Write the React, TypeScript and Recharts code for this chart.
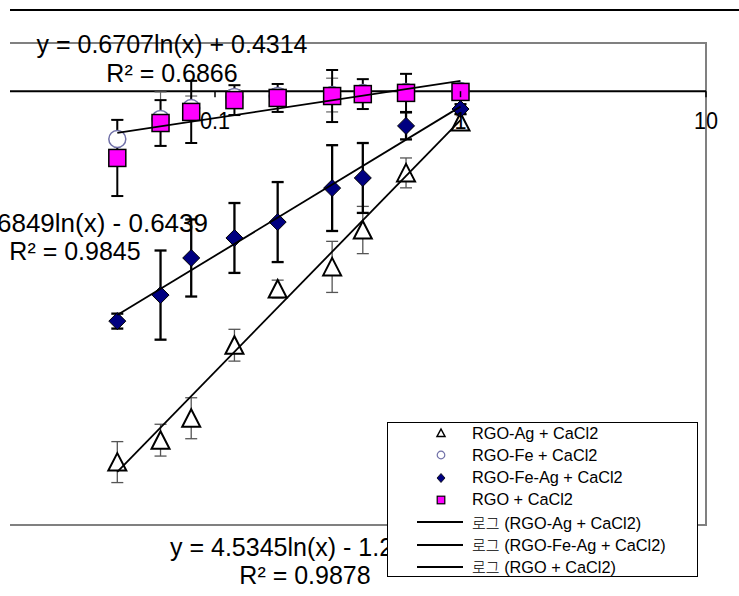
import { ScatterChart, Scatter, XAxis, YAxis, ErrorBar, ReferenceLine, ReferenceArea, ReferenceDot } from "recharts"

const concentrations = [0.04, 0.06, 0.08, 0.12, 0.18, 0.3, 0.4, 0.6, 1]

const agMean = [-15.39, -14.48, -13.57, -10.54, -8.21, -7.29, -5.76, -3.39, -1.28]
const agErr = [0.85, 0.66, 0.85, 0.66, 0.37, 1.06, 0.98, 0.62, 0.3]
const feMean = [-1.98, -1.15, -0.7, -0.24, -0.2, -0.16, -0.07, -0.03, 0.01]
const feErr = [0.8, 1.12, 0.5, 0.3, 0.3, 0.7, 0.3, 0.3, 0.1]
const feAgMean = [-9.54, -8.46, -6.92, -6.09, -5.43, -4.02, -3.6, -1.44, -0.74]
const feAgErr = [0.31, 1.85, 1.6, 1.45, 1.66, 1.78, 1.45, 0.56, 0.2]
const rgoMean = [-2.77, -1.32, -0.86, -0.37, -0.28, -0.2, -0.12, -0.07, -0.03]
const rgoErr = [1.58, 0.95, 1.29, 0.62, 0.58, 1.08, 0.62, 0.79, 0.1]

// trendline end points (x = 0.04 and x = 1)
const trendX = [0.04, 1]
const agTrend = [-15.8, -1.2]
const feAgTrend = [-9.29, -0.64]
const rgoTrend = [-1.73, 0.43]

const axisTicks = [0.1, 1, 10]
const tickLabels = ["0.1", "1", "10"]

const legendMarkers = ["RGO-Ag + CaCl2", "RGO-Fe + CaCl2", "RGO-Fe-Ag + CaCl2", "RGO + CaCl2"]
const legendTrends = ["(RGO-Ag + CaCl2)", "(RGO-Fe-Ag + CaCl2)", "(RGO + CaCl2)"]
const trendPrefix = "로그"

const FONT = "'Liberation Sans', Arial, sans-serif"

const toPoints = (ys: number[], errs: number[]) =>
  concentrations.map((x, i) => ({ x, y: ys[i], err: errs[i] }))
const toTrend = (ys: number[]) => trendX.map((x, i) => ({ x, y: ys[i] }))

const Triangle = ({ cx, cy }: any) => (
  <polygon
    points={`${cx},${cy - 9} ${cx + 9},${cy + 8.5} ${cx - 9},${cy + 8.5}`}
    fill="#fff"
    stroke="#000"
    strokeWidth={2}
  />
)
const Circle = ({ cx, cy }: any) => (
  <circle cx={cx} cy={cy} r={8.5} fill="#fff" stroke="#7070a8" strokeWidth={1.5} />
)
const Diamond = ({ cx, cy }: any) => (
  <polygon
    points={`${cx},${cy - 8.5} ${cx + 8.5},${cy} ${cx},${cy + 8.5} ${cx - 8.5},${cy}`}
    fill="#000080"
    stroke="#000"
    strokeWidth={1}
  />
)
const Square = ({ cx, cy }: any) => (
  <rect x={cx - 8.5} y={cy - 8.5} width={17} height={17} fill="#ff00ff" stroke="#000" strokeWidth={1.5} />
)
const NoShape = () => <g />

function LegendBox() {
  const marks = [
    <polygon key="t" points="0,-4 4,3.5 -4,3.5" fill="#fff" stroke="#000" strokeWidth={1.5} />,
    <circle key="c" r={3.8} fill="#fff" stroke="#7070a8" strokeWidth={1.2} />,
    <polygon key="d" points="0,-4.5 4,0 0,4.5 -4,0" fill="#000080" stroke="#000" strokeWidth={0.8} />,
    <rect key="s" x={-3.8} y={-3.8} width={7.6} height={7.6} fill="#ff00ff" stroke="#000" strokeWidth={1.2} />,
  ]
  const rows = [
    ...legendMarkers.map((name, i) => ({ key: name, mark: marks[i], text: name, prefix: "" })),
    ...legendTrends.map((name) => ({ key: name, mark: null, text: name, prefix: trendPrefix })),
  ]
  return (
    <div
      style={{
        position: "absolute",
        left: 387,
        top: 422,
        width: 311,
        height: 155,
        border: "1px solid #000",
        background: "#fff",
        boxSizing: "border-box",
      }}
    >
      {rows.map((r, i) => (
        <div
          key={r.key}
          style={{
            position: "absolute",
            left: 0,
            top: 10 + i * 22.3 - 11,
            height: 22,
            width: 305,
            display: "flex",
            alignItems: "center",
          }}
        >
          <svg width={84} height={22} style={{ flex: "none" }}>
            {r.mark ? (
              <g transform="translate(53,11)">{r.mark}</g>
            ) : (
              <line x1={29} x2={75} y1={11} y2={11} stroke="#000" strokeWidth={2} />
            )}
          </svg>
          <span style={{ fontFamily: FONT, fontSize: 16.3, color: "#000", whiteSpace: "pre" }}>
            {r.prefix ? (
              <span style={{ fontFamily: "'Noto Sans CJK KR', sans-serif", fontSize: 15, fontWeight: 300 }}>
                {r.prefix}
              </span>
            ) : null}
            {r.prefix ? " " : ""}
            {r.text}
          </span>
        </div>
      ))}
    </div>
  )
}

export default function App() {
  return (
    <div
      style={{
        position: "absolute",
        left: 0,
        top: 0,
        width: 739,
        height: 596,
        overflow: "hidden",
        background: "#fff",
      }}
    >
      <div style={{ position: "absolute", left: 10, top: 9, width: 729, height: 2, background: "#000" }} />
      <div style={{ position: "absolute", left: -80, top: 0 }}>
        <ScatterChart width={819} height={596} margin={{ top: 43, right: 33, bottom: 71, left: 49.5 }}>
          <XAxis type="number" dataKey="x" scale="log" domain={[0.01, 10]} allowDataOverflow hide />
          <YAxis type="number" dataKey="y" domain={[-18, 2]} allowDataOverflow hide />
          <ReferenceArea x1={0.01} x2={10} y1={-18} y2={2} fill="none" stroke="#808080" strokeWidth={2} />
          <ReferenceLine y={0} stroke="#000" strokeWidth={2} />
          <Scatter data={toPoints(agMean, agErr)} shape={Triangle} isAnimationActive={false}>
            <ErrorBar dataKey="err" direction="y" width={6} stroke="#555" strokeWidth={1.3} />
          </Scatter>
          <Scatter data={toPoints(feMean, feErr)} shape={Circle} isAnimationActive={false}>
            <ErrorBar dataKey="err" direction="y" width={6} stroke="#666" strokeWidth={1.2} />
          </Scatter>
          <Scatter data={toPoints(feAgMean, feAgErr)} shape={Diamond} isAnimationActive={false}>
            <ErrorBar dataKey="err" direction="y" width={6} stroke="#000" strokeWidth={2.3} />
          </Scatter>
          <Scatter data={toPoints(rgoMean, rgoErr)} shape={Square} isAnimationActive={false}>
            <ErrorBar dataKey="err" direction="y" width={6} stroke="#000" strokeWidth={2} />
          </Scatter>
          <Scatter data={toTrend(agTrend)} shape={NoShape} line={{ stroke: "#000", strokeWidth: 1.8 }} isAnimationActive={false} />
          <Scatter data={toTrend(feAgTrend)} shape={NoShape} line={{ stroke: "#000", strokeWidth: 1.8 }} isAnimationActive={false} />
          <Scatter data={toTrend(rgoTrend)} shape={NoShape} line={{ stroke: "#000", strokeWidth: 1.8 }} isAnimationActive={false} />
          {axisTicks.map((t, i) => (
            <ReferenceDot
              key={t}
              x={t}
              y={0}
              ifOverflow="visible"
              shape={(p: any) => (
                <g>
                  <line x1={p.cx} x2={p.cx} y1={p.cy} y2={p.cy + 6} stroke="#000" strokeWidth={1.5} />
                  <text
                    x={p.cx}
                    y={p.cy + 38}
                    textAnchor="middle"
                    fontFamily={FONT}
                    fontSize={24}
                    fill="#000"
                    transform={`translate(${p.cx},0) scale(0.9,1) translate(${-p.cx},0)`}
                  >
                    {tickLabels[i]}
                  </text>
                </g>
              )}
            />
          ))}
        </ScatterChart>
      </div>
      <div style={{ position: "absolute", left: 0, top: 0, width: 10, height: 596, background: "#fff" }} />
      <svg width={739} height={596} style={{ position: "absolute", left: 0, top: 0, pointerEvents: "none" }}>
        <g fontFamily={FONT} fontSize={25} fill="#000">
          <text x={172} y={53} textAnchor="middle">y = 0.6707ln(x) + 0.4314</text>
          <text x={172} y={82} textAnchor="middle">R² = 0.6866</text>
          <text x={208} y={232} textAnchor="end" fontSize={26}>y = 2.6849ln(x) - 0.6439</text>
          <text x={75} y={260} textAnchor="middle">R² = 0.9845</text>
          <text x={170} y={556}>y = 4.5345ln(x) - 1.2</text>
          <text x={305} y={584} textAnchor="middle">R² = 0.9878</text>
        </g>
      </svg>
      <LegendBox />
    </div>
  )
}
